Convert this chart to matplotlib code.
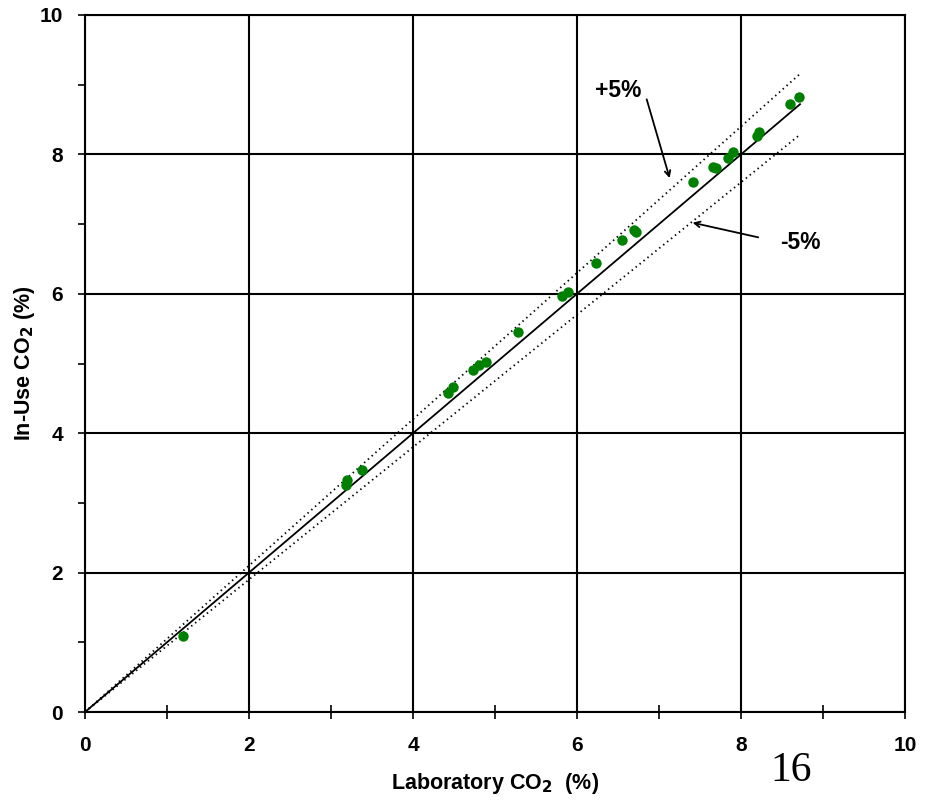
import matplotlib
matplotlib.use("Agg")
import matplotlib.pyplot as plt
from matplotlib.ticker import MultipleLocator

# laboratory vs in-use CO2 readings (%)
lab_co2 = [1.20, 3.18, 3.20, 3.38, 4.43, 4.49, 4.73, 4.80, 4.89, 5.28,
           5.82, 5.89, 6.23, 6.55, 6.70, 6.72, 7.42, 7.66, 7.69, 7.84,
           7.90, 8.20, 8.22, 8.60, 8.71]
inuse_co2 = [1.09, 3.26, 3.33, 3.47, 4.58, 4.66, 4.91, 4.98, 5.02, 5.45,
             5.97, 6.03, 6.44, 6.77, 6.92, 6.89, 7.60, 7.82, 7.80, 7.95,
             8.03, 8.26, 8.32, 8.72, 8.82]

line_x = [0, 8.72]
band = 0.05
page_number = "16"

plt.rcParams['font.family'] = ['Liberation Sans', 'DejaVu Sans']

fig = plt.figure(figsize=(9.28, 8), dpi=100)
ax = fig.add_axes([0.0916, 0.11, 0.8836, 0.87125])

ax.plot(line_x, line_x, color='black', lw=1.3, zorder=3)
ax.plot(line_x, [v * (1 + band) for v in line_x], color='black', lw=1.3,
        linestyle=(0, (0.8, 2.0)), zorder=3)
ax.plot(line_x, [v * (1 - band) for v in line_x], color='black', lw=1.3,
        linestyle=(0, (0.8, 2.0)), zorder=3)
ax.plot(lab_co2, inuse_co2, 'o', color='#008000', markersize=7.5,
        markeredgewidth=0, zorder=4)

# +5% / -5% labels with arrows pointing at the band lines
ax.text(6.50, 8.92, '+5%', ha='center', va='center', fontsize=16.5, fontweight='bold')
ax.annotate('', xy=(7.13, 7.66), xytext=(6.85, 8.79),
            arrowprops=dict(arrowstyle='->', color='black', lw=1.3, shrinkA=0, shrinkB=0))
ax.text(8.72, 6.74, '-5%', ha='center', va='center', fontsize=16.5, fontweight='bold')
ax.annotate('', xy=(7.41, 7.02), xytext=(8.21, 6.81),
            arrowprops=dict(arrowstyle='->', color='black', lw=1.3, shrinkA=0, shrinkB=0))

ax.set_xlim(0, 10)
ax.set_ylim(0, 10)
ax.xaxis.set_major_locator(MultipleLocator(2))
ax.xaxis.set_minor_locator(MultipleLocator(1))
ax.yaxis.set_major_locator(MultipleLocator(2))
ax.yaxis.set_minor_locator(MultipleLocator(1))
ax.grid(which='major', color='black', lw=1.5)
ax.set_axisbelow(True)
for s in ax.spines.values():
    s.set_linewidth(1.5)

ax.tick_params(axis='both', which='major', direction='out', length=5, width=1.2,
               labelsize=15)
ax.tick_params(axis='x', which='major', pad=12)
ax.tick_params(axis='y', which='major', pad=11)
ax.tick_params(axis='x', which='minor', direction='inout', length=10, width=1.2)
ax.tick_params(axis='y', which='minor', direction='out', length=5, width=1.2)
for lab in ax.get_xticklabels() + ax.get_yticklabels():
    lab.set_fontweight('bold')

ax.set_xlabel('Laboratory CO$_\\mathbf{2}$  (%)', fontsize=15.5, fontweight='bold', labelpad=12)
ax.set_ylabel('In-Use CO$_\\mathbf{2}$ (%)', fontsize=15.5, fontweight='bold', labelpad=2)

fig.text(0.8525, 0.036, page_number, fontsize=30, family='Liberation Serif',
         ha='center', va='center')

fig.savefig('out.png', dpi=100)
